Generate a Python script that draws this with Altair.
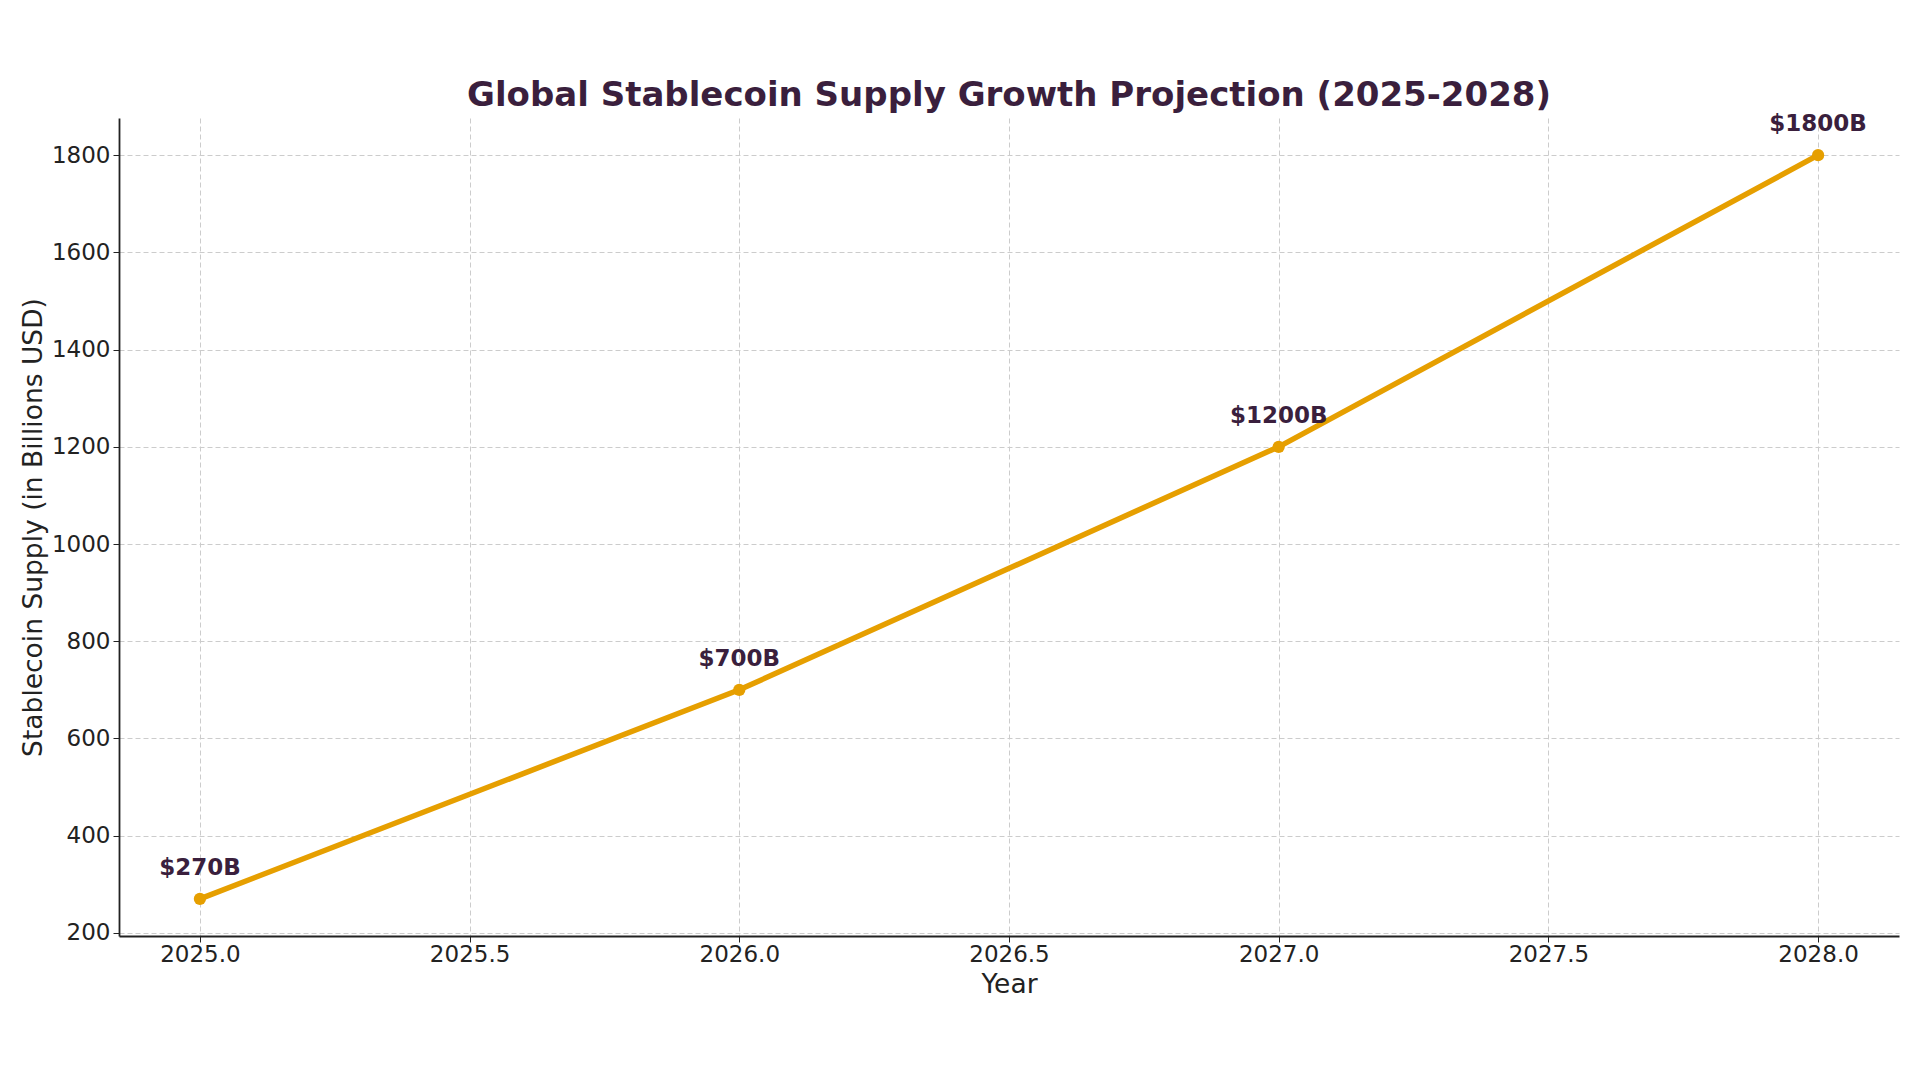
import altair as alt
import pandas as pd

# Projected stablecoin supply, billions of USD
years = [2025, 2026, 2027, 2028]
supply = [270, 700, 1200, 1800]
labels = [f"${v}B" for v in supply]

x_ticks = [2025.0, 2025.5, 2026.0, 2026.5, 2027.0, 2027.5, 2028.0]
y_ticks = [200, 400, 600, 800, 1000, 1200, 1400, 1600, 1800]

df = pd.DataFrame({"year": years, "supply": supply, "label": labels})

LINE = "#E69F00"
INK = "#3a1f3d"
FONT = "DejaVu Sans"

x_enc = alt.X(
    "year:Q",
    scale=alt.Scale(domain=[2024.85, 2028.15], nice=False, zero=False),
    axis=alt.Axis(
        values=x_ticks,
        format=".1f",
        title="Year",
        labelPadding=1,
        titlePadding=5,
    ),
)
y_enc = alt.Y(
    "supply:Q",
    scale=alt.Scale(domain=[193.5, 1876.5], nice=False, zero=False),
    axis=alt.Axis(
        values=y_ticks,
        format="d",
        title="Stablecoin Supply (in Billions USD)",
        labelPadding=3,
        titlePadding=4,
    ),
)

base = alt.Chart(df).encode(x=x_enc, y=y_enc)

line = base.mark_line(color=LINE, strokeWidth=5.5)
points = base.mark_point(filled=True, color=LINE, size=150, opacity=1)
text = base.mark_text(
    dy=-31, font=FONT, fontSize=23, fontWeight="bold", color=INK
).encode(text="label:N")

chart = (
    alt.layer(line, points, text)
    .properties(
        width=1780,
        height=818,
        autosize=alt.AutoSizeParams(type="none"),
        padding={"left": 119, "top": 118, "right": 21, "bottom": 144},
        title=alt.TitleParams(
            "Global Stablecoin Supply Growth Projection (2025-2028)",
            font=FONT,
            fontSize=34,
            fontWeight="bold",
            color=INK,
            anchor="middle",
            offset=0,
        ),
    )
    .configure_view(stroke=None)
    .configure_axis(
        labelFont=FONT,
        labelFontSize=23,
        labelColor="#222222",
        titleFont=FONT,
        titleFontSize=26.5,
        titleFontWeight="normal",
        titleColor="#222222",
        domainColor="#222222",
        domainWidth=1.8,
        tickColor="#222222",
        tickSize=6,
        grid=True,
        gridColor="#cccccc",
        gridDash=[5, 3],
        gridWidth=1,
    )
)

chart.save("out.html", embed_options={"renderer": "svg", "actions": False})
